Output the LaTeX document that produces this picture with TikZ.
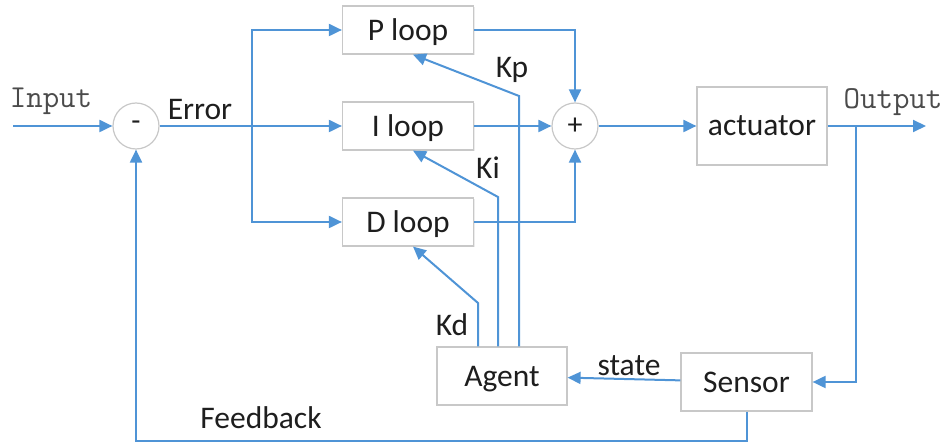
\documentclass[tikz,border=0pt]{standalone}
\usepackage{fontspec}
\setmainfont{Carlito}
\usetikzlibrary{arrows.meta,shadows}
\definecolor{wire}{RGB}{79,148,214}
\definecolor{frame}{RGB}{200,200,200}
\definecolor{ink}{RGB}{30,30,30}
\tikzset{
  blockbox/.style={draw=frame, line width=1.2pt, fill=white, minimum width=131pt,
    minimum height=48pt, inner sep=0pt, text depth=0pt,
    font=\fontsize{31.5}{34}\selectfont, text=ink,
    drop shadow={shadow xshift=1pt, shadow yshift=-1pt, opacity=0.15}},
  sumnode/.style={draw=frame, line width=1.2pt, fill=white, circle, minimum size=46pt,
    inner sep=0pt, font=\fontsize{30}{32}\selectfont, text=ink},
  wirearrow/.style={draw=wire, line width=2pt, -{Triangle[length=13pt,width=12pt]}},
  wireline/.style={draw=wire, line width=2pt},
  lbl/.style={font=\fontsize{31.5}{34}\selectfont, text=ink, inner sep=0pt},
  monolbl/.style={font=\ttfamily\fontsize{32}{34}\selectfont, text=ink!80, inner sep=0pt},
}
\begin{document}
\begin{tikzpicture}[x=1pt, y=-1pt]
\useasboundingbox (0,0) rectangle (944,443);

% blocks
\node[blockbox] (P) at (408,30) {P loop};
\node[blockbox] (I) at (408,126) {I loop};
\node[blockbox] (D) at (408,222) {D loop};
\node[blockbox, minimum width=130pt, minimum height=78pt] (act) at (762,126) {actuator};
\node[blockbox, minimum width=130pt, minimum height=58pt] (agent) at (502,376) {Agent};
\node[blockbox, minimum width=131pt, minimum height=58pt] (sensor) at (746.5,382) {Sensor};

% summing junctions
\node[sumnode] (minus) at (136,126) {-};
\node[sumnode] (plus) at (575,126) {+};

% helper points
\coordinate (in) at (13,126);
\coordinate (out) at (926,126);
\coordinate (split) at (252,126);
\coordinate (tap) at (856,126);
\coordinate (fb) at (747,441);

% input and error paths
\draw[wirearrow] (in) -- (minus);
\draw[wireline] (minus) -- (split);
\draw[wirearrow] (split) -- (I);
\draw[wirearrow] (split) |- (P);
\draw[wirearrow] (split) |- (D);

% loop outputs to the summing junction
\draw[wirearrow] (P) -| (plus);
\draw[wirearrow] (I) -- (plus);
\draw[wirearrow] (D) -| (plus);

% actuator and output
\draw[wirearrow] (plus) -- (act);
\draw[wirearrow] (act) -- (out);
\draw[wirearrow] (tap) |- (sensor);

% sensor to agent
\draw[wirearrow] (sensor) -- (agent);

% gain paths from the agent
\draw[wirearrow] (agent.north -| 519,0) -- (519,96) -- (P.south -| 413,0);
\draw[wirearrow] (agent.north -| 498,0) -- (498,197) -- (I.south -| 413,0);
\draw[wirearrow] (agent.north -| 478,0) -- (478,303) -- (D.south -| 413,0);

% feedback path
\draw[wirearrow] (sensor.south -| fb) -- (fb) -| (minus);

% labels
\node[monolbl] (tin) at (51,101) {Input};
\node[monolbl] (tout) at (893,102) {Output};
\node[lbl] (terr) at (200,110) {Error};
\node[lbl] (tkp) at (512,70) {Kp};
\node[lbl] (tki) at (488,168) {Ki};
\node[lbl] (tkd) at (452,325) {Kd};
\node[lbl] (tstate) at (629,366) {state};
\node[lbl] (tfb) at (261,418) {Feedback};
\end{tikzpicture}
\end{document}
